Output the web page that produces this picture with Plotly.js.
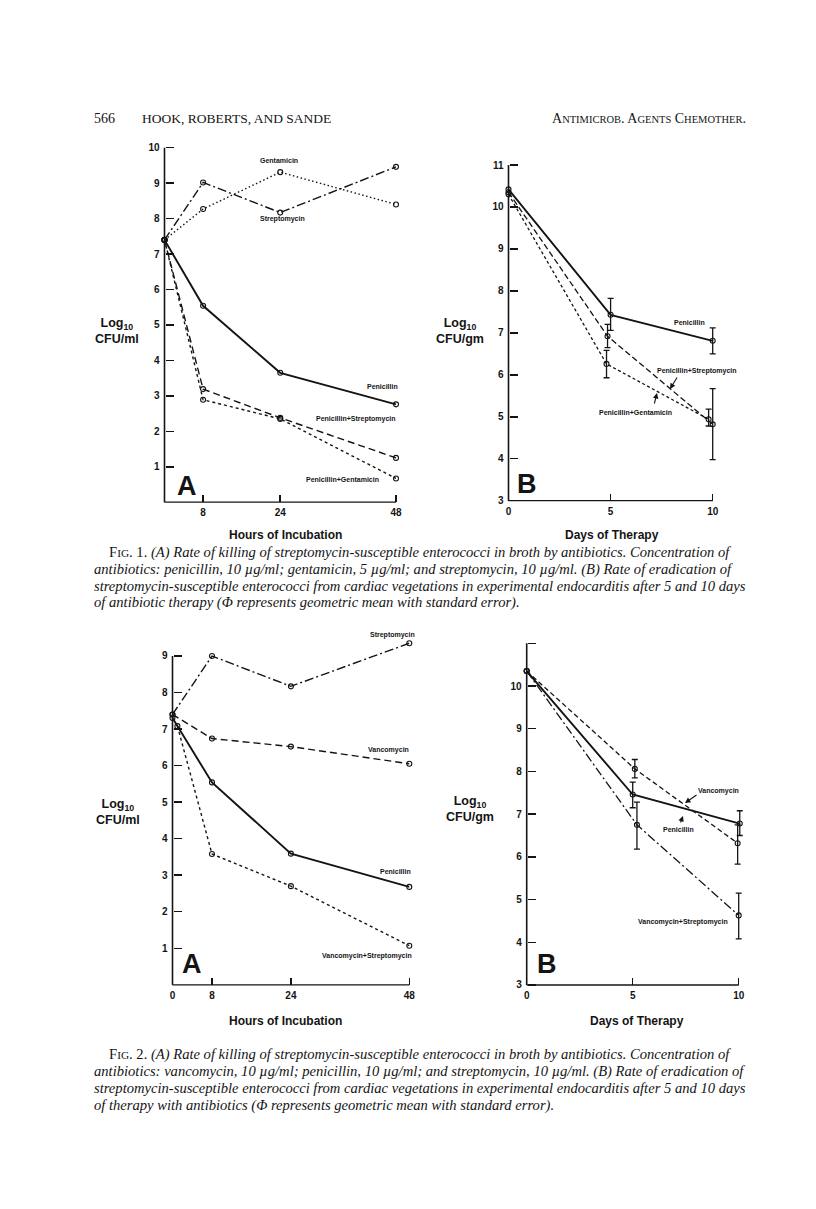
<!DOCTYPE html>
<html><head><meta charset="utf-8">
<script src="https://cdn.plot.ly/plotly-3.0.1.min.js"></script>
<style>html,body{margin:0;padding:0;background:#fff}#chart{width:816px;height:1209px}</style>
</head><body><div id="chart"></div>
<script>
// ---------------- DATA ----------------
// Fig. 1A : hours of incubation vs log10 CFU/ml
const f1aHours = [0, 8, 24, 48];
const f1aGentamicin = [7.4, 8.27, 9.31, 8.4];
const f1aStreptomycin = [7.4, 9.02, 8.17, 9.46];
const f1aPenicillin = [7.4, 5.54, 3.65, 2.76];
const f1aPenStrep = [7.4, 3.19, 2.38, 1.25];
const f1aPenGent = [7.4, 2.89, 2.35, 0.67];

// Fig. 1B : days of therapy vs log10 CFU/gm (mean, upper, lower)
const f1bPenDays = [0, 5, 10];
const f1bPenicillin = [10.42, 7.43, 6.81];
const f1bPenHi = [null, 7.82, 7.12];
const f1bPenLo = [null, 7.06, 6.5];
const f1bPenStrepDays = [0, 4.85, 10];
const f1bPenStrep = [10.35, 6.92, 4.82];
const f1bPenStrepHi = [null, 7.2, 5.67];
const f1bPenStrepLo = [null, 6.65, 3.98];
const f1bPenGentDays = [0, 4.8, 9.8];
const f1bPenGent = [10.3, 6.26, 4.94];
const f1bPenGentHi = [null, 6.58, 5.18];
const f1bPenGentLo = [null, 5.93, 4.78];

// Fig. 2A : hours of incubation vs log10 CFU/ml
const f2aHours = [0, 8, 24, 48];
const f2aStreptomycin = [7.4, 9.0, 8.17, 9.35];
const f2aVancomycin = [7.4, 6.74, 6.52, 6.05];
const f2aPenicillin = [7.3, 5.54, 3.59, 2.68];
const f2aVancoStrepHours = [1, 8, 24, 48];
const f2aVancoStrep = [7.08, 3.58, 2.7, 1.07];

// Fig. 2B : days of therapy vs log10 CFU/gm
const f2bVancoDays = [0, 5.1, 9.95];
const f2bVancomycin = [10.35, 8.06, 6.32];
const f2bVancoHi = [null, 8.28, 6.75];
const f2bVancoLo = [null, 7.85, 5.83];
const f2bPenDays = [0, 5, 10.05];
const f2bPenicillin = [10.35, 7.46, 6.78];
const f2bPenHi = [null, 7.75, 7.08];
const f2bPenLo = [null, 7.15, 6.5];
const f2bVSDays = [0, 5.2, 10];
const f2bVancoStrep = [10.35, 6.75, 4.63];
const f2bVSHi = [null, 7.28, 5.15];
const f2bVSLo = [null, 6.18, 4.08];

// tick labels
const hourTicks = [0, 8, 24, 48];
const dayTicks = [0, 5, 10];

// ---------------- LAYOUT HELPERS ----------------
const W = 816, H = 1209;
const INK = '#141414';
function geom(c) {
  const fx = v => c.x[1] + (v - c.x[0]) * (c.x[3] - c.x[1]) / (c.x[2] - c.x[0]);
  const fy = v => c.y[1] + (v - c.y[0]) * (c.y[3] - c.y[1]) / (c.y[2] - c.y[0]);
  return {
    xdom: [fx(c.xr[0]) / W, fx(c.xr[1]) / W],
    ydom: [1 - fy(c.yr[0]) / H, 1 - fy(c.yr[1]) / H],
    xpos: 1 - fy(c.ybase) / H,
    ypos: fx(0) / W,
    c: c
  };
}
const P = [
  geom({x: [0, 164.5, 48, 396], y: [0, 502.2, 10, 147.7], xr: [-1.5, 50], yr: [-0.5, 10.3], ybase: 0, ytop: 10, xend: 48}),
  geom({x: [0, 508.5, 10, 712.7], y: [3, 500.7, 11, 165], xr: [-0.6, 10.8], yr: [2.7, 11.3], ybase: 3, ytop: 11, xend: 10}),
  geom({x: [0, 172.5, 48, 409.3], y: [0, 984.8, 9, 656], xr: [-1.5, 50], yr: [-0.5, 9.7], ybase: 0, ytop: 9, xend: 48}),
  geom({x: [0, 526.7, 10, 738.7], y: [3, 985, 11, 643.3], xr: [-0.6, 10.8], yr: [2.7, 11.3], ybase: 3, ytop: 11, xend: 10})
];
const tickFont = {family: 'Liberation Sans, Arial, sans-serif', size: 10, weight: 'bold', color: INK};
function xax(p, vals, txt) {
  return {domain: p.xdom, range: p.c.xr, anchor: 'free', position: p.xpos,
    tickmode: 'array', tickvals: vals, ticktext: txt, ticks: 'inside', ticklen: 7, tickwidth: 1.5,
    tickcolor: INK, showline: false, showgrid: false, zeroline: false, tickfont: tickFont,
    ticklabelstandoff: 3, fixedrange: true};
}
function yax(p, vals, txt) {
  return {domain: p.ydom, range: p.c.yr, anchor: 'free', position: p.ypos,
    tickmode: 'array', tickvals: vals, ticktext: txt, ticks: 'inside', ticklen: 8, tickwidth: 1.5,
    tickcolor: INK, showline: false, showgrid: false, zeroline: false, tickfont: tickFont,
    ticklabelstandoff: 5, fixedrange: true};
}
function errs(y, hi, lo) {
  return {type: 'data', symmetric: false,
    array: y.map((v, i) => hi[i] == null ? NaN : hi[i] - v),
    arrayminus: y.map((v, i) => lo[i] == null ? NaN : v - lo[i]),
    color: INK, thickness: 1.3, width: 3};
}
function tr(ax, x, y, dash, w, name, err) {
  const t = {type: 'scatter', mode: 'lines+markers', x: x, y: y, xaxis: 'x' + ax, yaxis: 'y' + ax,
    name: name, line: {color: INK, width: w, dash: dash},
    marker: {symbol: 'circle-open', size: 5, color: INK, line: {width: 1.1, color: INK}},
    cliponaxis: false, hoverinfo: 'skip', showlegend: false};
  if (err) t.error_y = err;
  return t;
}
const LONG = '7px,4px', SHORT = '3px,3px', DOT = '1.5px,2.5px', DASHDOT = '9px,3px,2px,3px';

const data = [
  tr('', f1aHours, f1aGentamicin, DOT, 1.4, 'Gentamicin'),
  tr('', f1aHours, f1aStreptomycin, DASHDOT, 1.4, 'Streptomycin'),
  tr('', f1aHours, f1aPenicillin, 'solid', 1.9, 'Penicillin'),
  tr('', f1aHours, f1aPenStrep, LONG, 1.4, 'Penicillin+Streptomycin'),
  tr('', f1aHours, f1aPenGent, SHORT, 1.4, 'Penicillin+Gentamicin'),

  tr('2', f1bPenDays, f1bPenicillin, 'solid', 1.9, 'Penicillin', errs(f1bPenicillin, f1bPenHi, f1bPenLo)),
  tr('2', f1bPenStrepDays, f1bPenStrep, '6px,3px', 1.3, 'Penicillin+Streptomycin', errs(f1bPenStrep, f1bPenStrepHi, f1bPenStrepLo)),
  tr('2', f1bPenGentDays, f1bPenGent, '3px,2.5px', 1.3, 'Penicillin+Gentamicin', errs(f1bPenGent, f1bPenGentHi, f1bPenGentLo)),

  tr('3', f2aHours, f2aStreptomycin, DASHDOT, 1.4, 'Streptomycin'),
  tr('3', f2aHours, f2aVancomycin, LONG, 1.4, 'Vancomycin'),
  tr('3', f2aHours, f2aPenicillin, 'solid', 1.9, 'Penicillin'),
  tr('3', f2aVancoStrepHours, f2aVancoStrep, SHORT, 1.4, 'Vancomycin+Streptomycin'),

  tr('4', f2bVancoDays, f2bVancomycin, '5px,3px', 1.3, 'Vancomycin', errs(f2bVancomycin, f2bVancoHi, f2bVancoLo)),
  tr('4', f2bPenDays, f2bPenicillin, 'solid', 1.9, 'Penicillin', errs(f2bPenicillin, f2bPenHi, f2bPenLo)),
  tr('4', f2bVSDays, f2bVancoStrep, DASHDOT, 1.3, 'Vancomycin+Streptomycin', errs(f2bVancoStrep, f2bVSHi, f2bVSLo))
];

// axis lines as shapes
const shapes = [];
['', '2', '3', '4'].forEach((s, i) => {
  const c = P[i].c;
  shapes.push({type: 'line', xref: 'x' + s, yref: 'y' + s, x0: 0, x1: 0, y0: c.ybase, y1: c.ytop, line: {color: INK, width: 1.6}});
  shapes.push({type: 'line', xref: 'x' + s, yref: 'y' + s, x0: 0, x1: c.xend, y0: c.ybase, y1: c.ybase, line: {color: INK, width: 1.3}});
});

// annotations (pixel positions)
const ann = [];
function A(text, px, py, o) {
  o = o || {};
  ann.push(Object.assign({text: text, xref: 'paper', yref: 'paper', x: px / W, y: 1 - py / H,
    xanchor: 'center', yanchor: 'middle', showarrow: false,
    font: {family: 'Liberation Sans, Arial, sans-serif', size: 7, weight: 'bold', color: INK}}, o));
}
function arrow(tx, ty, hx, hy) {
  ann.push({text: '', xref: 'paper', yref: 'paper', x: hx / W, y: 1 - hy / H, ax: tx - hx, ay: ty - hy,
    showarrow: true, arrowhead: 2, arrowsize: 1, arrowwidth: 1.1, arrowcolor: INK});
}
const sans = (sz, w) => ({family: 'Liberation Sans, Arial, sans-serif', size: sz, weight: w || 'bold', color: INK});
const serif = (sz) => ({family: 'Liberation Serif, Times New Roman, serif', size: sz, color: INK});

// header
A('566', 92, 118, {xanchor: 'left', font: serif(14)});
A('HOOK, ROBERTS, AND SANDE', 140, 118, {xanchor: 'left', font: serif(13.5)});
A('A<span style="font-size:10.5px">NTIMICROB</span>. A<span style="font-size:10.5px">GENTS</span> C<span style="font-size:10.5px">HEMOTHER</span>.', 748, 118, {xanchor: 'right', font: serif(14)});

// Fig 1A labels
A('Gentamicin', 279, 160);
A('Streptomycin', 282, 219);
A('Penicillin', 382, 386);
A('Penicillin+Streptomycin', 356, 419);
A('Penicillin+Gentamicin', 342, 479);
A('A', 187, 486, {font: sans(27)});
A('Log<sub>10</sub><br>CFU/ml', 117, 331, {font: sans(12.5)});
A('Hours of Incubation', 285, 535, {font: sans(12)});

// Fig 1B labels
A('Penicillin', 689, 322);
A('Penicillin+Streptomycin', 697, 371);
A('Penicillin+Gentamicin', 635, 412);
arrow(678, 376, 670, 389);
arrow(654, 405, 657, 393);
A('B', 527, 484, {font: sans(27)});
A('Log<sub>10</sub><br>CFU/gm', 460, 331, {font: sans(12.5)});
A('Days of Therapy', 612, 535, {font: sans(12)});

// Fig 1 caption
const capF = serif(14.6);
const sc = '<span style="font-size:11.3px">';
A('F' + sc + 'IG</span>. 1. <i>(A) Rate of killing of streptomycin-susceptible enterococci in broth by antibiotics. Concentration of</i>', 107, 552, {xanchor: 'left', font: capF});
A('<i>antibiotics: penicillin, 10 µg/ml; gentamicin, 5 µg/ml; and streptomycin, 10 µg/ml. (B) Rate of eradication of</i>', 92, 569, {xanchor: 'left', font: capF});
A('<i>streptomycin-susceptible enterococci from cardiac vegetations in experimental endocarditis after 5 and 10 days</i>', 92, 586, {xanchor: 'left', font: capF});
A('<i>of antibiotic therapy (Φ represents geometric mean with standard error).</i>', 92, 603, {xanchor: 'left', font: capF});

// Fig 2A labels
A('Streptomycin', 392, 635);
A('Vancomycin', 388, 750);
A('Penicillin', 395, 871);
A('Vancomycin+Streptomycin', 367, 956);
A('A', 192, 964, {font: sans(27)});
A('Log<sub>10</sub><br>CFU/ml', 118, 812, {font: sans(12.5)});
A('Hours of Incubation', 285, 1021, {font: sans(12)});

// Fig 2B labels
A('Vancomycin', 718, 791);
arrow(698, 794, 685, 803);
A('Penicillin', 678, 829);
arrow(680, 824, 683, 816);
A('Vancomycin+Streptomycin', 683, 922);
A('B', 547, 964, {font: sans(27)});
A('Log<sub>10</sub><br>CFU/gm', 470, 809, {font: sans(12.5)});
A('Days of Therapy', 637, 1021, {font: sans(12)});

// Fig 2 caption
A('F' + sc + 'IG</span>. 2. <i>(A) Rate of killing of streptomycin-susceptible enterococci in broth by antibiotics. Concentration of</i>', 107, 1054, {xanchor: 'left', font: capF});
A('<i>antibiotics: vancomycin, 10 µg/ml; penicillin, 10 µg/ml; and streptomycin, 10 µg/ml. (B) Rate of eradication of</i>', 92, 1071, {xanchor: 'left', font: capF});
A('<i>streptomycin-susceptible enterococci from cardiac vegetations in experimental endocarditis after 5 and 10 days</i>', 92, 1088, {xanchor: 'left', font: capF});
A('<i>of therapy with antibiotics (Φ represents geometric mean with standard error).</i>', 92, 1105, {xanchor: 'left', font: capF});

const layout = {
  width: W, height: H, margin: {l: 0, r: 0, t: 0, b: 0},
  paper_bgcolor: '#fff', plot_bgcolor: 'rgba(0,0,0,0)', showlegend: false,
  xaxis: xax(P[0], [8, 24, 48], ['8', '24', '48']),
  yaxis: yax(P[0], [1, 2, 3, 4, 5, 6, 7, 8, 9, 10], ['1', '2', '3', '4', '5', '6', '7', '8', '9', '10']),
  xaxis2: xax(P[1], dayTicks, dayTicks.map(String)),
  yaxis2: yax(P[1], [3, 4, 5, 6, 7, 8, 9, 10, 11], ['3', '4', '5', '6', '7', '8', '9', '10', '11']),
  xaxis3: xax(P[2], hourTicks, hourTicks.map(String)),
  yaxis3: yax(P[2], [1, 2, 3, 4, 5, 6, 7, 8, 9], ['1', '2', '3', '4', '5', '6', '7', '8', '9']),
  xaxis4: xax(P[3], dayTicks, dayTicks.map(String)),
  yaxis4: yax(P[3], [3, 4, 5, 6, 7, 8, 9, 10, 11], ['3', '4', '5', '6', '7', '8', '9', '10', '']),
  shapes: shapes,
  annotations: ann
};
Plotly.newPlot('chart', data, layout, {staticPlot: true, displayModeBar: false});
</script>
</body></html>
